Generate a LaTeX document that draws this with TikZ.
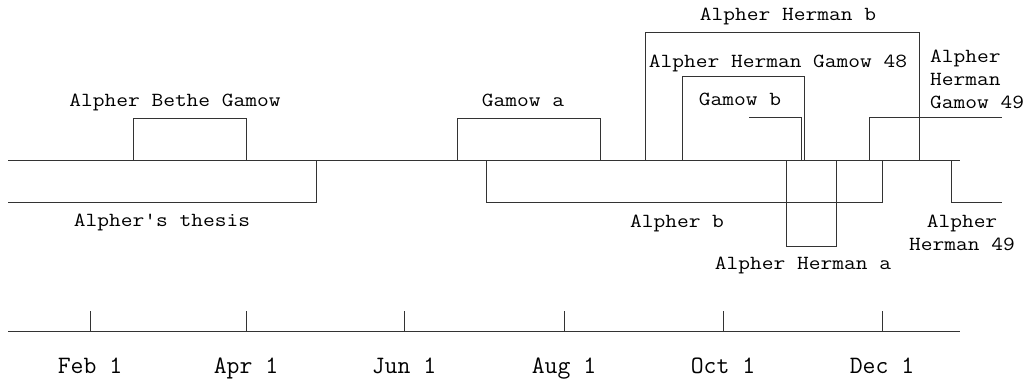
\documentclass[tikz,border=0pt]{standalone}
\usepackage{fontspec}
\newfontfamily\lblfont{Latin Modern Mono}[FakeStretch=1.14]
\newfontfamily\monfont{Latin Modern Mono}
\begin{document}
\begin{tikzpicture}[x=1pt,y=-1pt,
  ln/.style={line width=1pt, draw=black!80, line join=miter},
  lbl/.style={font=\lblfont\fontsize{20}{23}\selectfont, inner sep=0pt, anchor=base, text=black},
  lblw/.style={lbl, anchor=base west},
  mon/.style={font=\monfont\fontsize{25}{28}\selectfont, inner sep=0pt, anchor=base, text=black}]
\useasboundingbox (0,0) rectangle (1032,379);

% time line
\draw[ln] (8,161) -- (960,161);

% upper bars
\draw[ln] (133,161) -- (133,119) -- (246,119) -- (246,161);
\draw[ln] (457,161) -- (457,119) -- (600,119) -- (600,161);
\draw[ln] (645,161) -- (645,33) -- (919,33) -- (919,161);
\draw[ln] (682,161) -- (682,77) -- (804,77) -- (804,161);
\draw[ln] (749,118) -- (801,118) -- (801,161);
\draw[ln] (869,161) -- (869,118) -- (1002,118);

% lower bars
\draw[ln] (8,203) -- (316,203) -- (316,161);
\draw[ln] (486,161) -- (486,203) -- (882,203) -- (882,161);
\draw[ln] (786,161) -- (786,246) -- (836,246) -- (836,161);
\draw[ln] (951,161) -- (951,203) -- (1002,203);

% labels
\node[lbl] (abg) at (175,107) {Alpher Bethe Gamow};
\node[lbl] (thesis) at (162,226) {Alpher's thesis};
\node[lbl] (gama) at (523,107) {Gamow a};
\node[lbl] (ahb) at (788,21) {Alpher Herman b};
\node[lbl] (ahg48) at (778,68) {Alpher Herman Gamow 48};
\node[lbl] (gamb) at (740,106) {Gamow b};
\node[lblw] (ahg49a) at (930,63) {Alpher};
\node[lblw] (ahg49b) at (930,86) {Herman};
\node[lblw] (ahg49c) at (930,109) {Gamow 49};
\node[lbl] (alpb) at (677,227) {Alpher b};
\node[lbl] (aha) at (803,269) {Alpher Herman a};
\node[lbl] (ah49a) at (962,227) {Alpher};
\node[lbl] (ah49b) at (962,250) {Herman 49};

% axis
\draw[ln] (8,331) -- (960,331);
\foreach \x/\m/\n in {90/Feb 1/feb, 246/Apr 1/apr, 404/Jun 1/jun, 564/Aug 1/aug, 723/Oct 1/oct, 882/Dec 1/dec} {
  \draw[ln] (\x,311) -- (\x,331);
  \node[mon] (\n) at (\x,373) {\m};
}
\end{tikzpicture}
\end{document}
